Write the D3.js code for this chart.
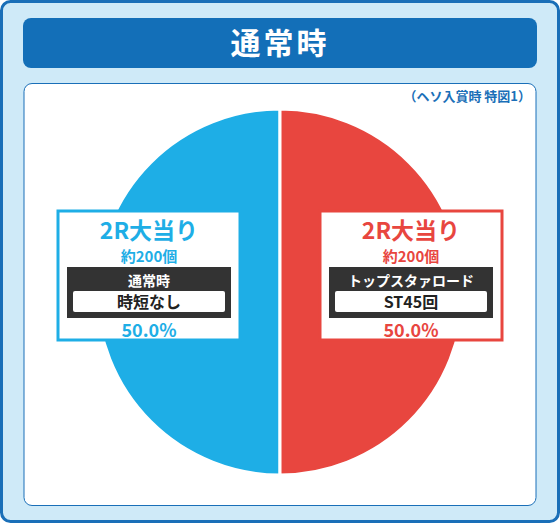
<!DOCTYPE html><html><head><meta charset="utf-8"><script src="https://cdn.jsdelivr.net/npm/d3@7"></script>
<style>body{margin:0;background:#fff}text{font-family:"Noto Sans CJK JP",sans-serif;font-weight:bold}</style></head><body><svg id="c" width="560" height="523"></svg>
<script>
const title="通常時";
const note="（ヘソ入賞時 特図1）";
const categories=["2R大当り","2R大当り"];
const values=[50.0,50.0];
const payouts=["約200個","約200個"];
const modes=["通常時","トップスタァロード"];
const subs=["時短なし","ST45回"];
const colors=["#1eaee6","#e8463f"];
const svg=d3.select("#c");
svg.append("rect").attr("x",1.5).attr("y",1.5).attr("width",557).attr("height",520).attr("rx",9).attr("fill","#cfeaf8").attr("stroke","#1a6fb8").attr("stroke-width",3);
svg.append("rect").attr("x",23).attr("y",18).attr("width",514).attr("height",50).attr("rx",8).attr("fill","#136fb8");
svg.append("text").attr("x",280).attr("y",54).attr("text-anchor","middle").attr("fill","#fff").attr("font-size",30).attr("letter-spacing",3).text(title);
svg.append("rect").attr("x",24).attr("y",83.5).attr("width",512).attr("height",422).attr("rx",8).attr("fill","#fff").attr("stroke","#1a6fb8").attr("stroke-width",1);
svg.append("text").attr("x",531).attr("y",101).attr("text-anchor","end").attr("fill","#1a6fb8").attr("font-size",13).text(note);
const cx=280,cy=292,r=183;
const pie=d3.pie().sort(null).startAngle(2*Math.PI).endAngle(0);
const arcs=pie(values);
const arc=d3.arc().innerRadius(0).outerRadius(r);
const g=svg.append("g").attr("transform",`translate(${cx},${cy})`);
g.selectAll("path").data(arcs).join("path").attr("d",arc).attr("fill",(d,i)=>colors[i]).attr("stroke","#fff").attr("stroke-width",3);
const bx=[58,320];
categories.forEach((c,i)=>{
  const x=bx[i],w=182,col=colors[i],m=x+w/2;
  svg.append("rect").attr("x",x).attr("y",211).attr("width",w).attr("height",129).attr("fill","#fff").attr("stroke",col).attr("stroke-width",3);
  svg.append("text").attr("x",m).attr("y",239).attr("text-anchor","middle").attr("fill",col).attr("font-size",23).text(c);
  svg.append("text").attr("x",m).attr("y",262).attr("text-anchor","middle").attr("fill",col).attr("font-size",15).text(payouts[i]);
  svg.append("rect").attr("x",x+9).attr("y",267).attr("width",w-18).attr("height",51).attr("fill","#333");
  svg.append("text").attr("x",m).attr("y",286).attr("text-anchor","middle").attr("fill","#fff").attr("font-size",14).text(modes[i]);
  svg.append("rect").attr("x",x+15).attr("y",291).attr("width",w-30).attr("height",21).attr("rx",2).attr("fill","#fff");
  svg.append("text").attr("x",m).attr("y",307.5).attr("text-anchor","middle").attr("fill","#222").attr("font-size",16).text(subs[i]);
  svg.append("text").attr("x",m).attr("y",337).attr("text-anchor","middle").attr("fill",col).attr("font-size",18).text(values[i].toFixed(1)+"%");
});
</script></body></html>
